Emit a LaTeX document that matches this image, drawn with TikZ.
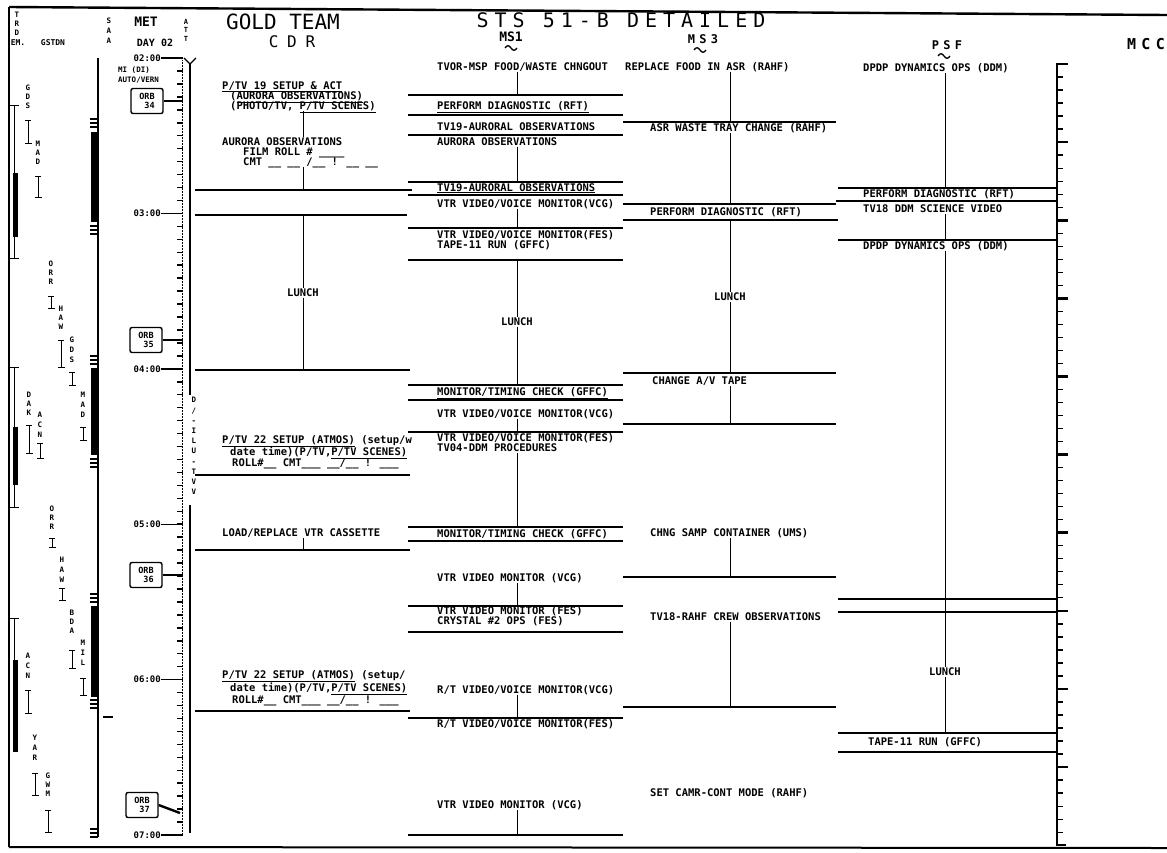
\documentclass[tikz,border=0pt]{standalone}
\usepackage{fontspec}
\setmainfont{DejaVu Sans Mono}
\newfontfamily\chartfont{DejaVu Sans Mono}
\newfontfamily\spacedfont[LetterSpace=55]{DejaVu Sans Mono}
\newfontfamily\titlefont[LetterSpace=30]{DejaVu Sans Mono}
\newfontfamily\wideheadfont[LetterSpace=35]{DejaVu Sans Mono}
\newcommand\gstn[6]{%
  \node[stnl] (#1) at (#2,#3) {#4};
  \draw[ibeam] (#2-3,#5) -- (#2+3,#5) (#2,#5) -- (#2,#6) (#2-3,#6) -- (#2+4,#6);}
\newcommand\tlbar[3]{\draw[bar] (#1,#3) -- (#2,#3);}
\newcommand\squig[2]{\draw[line width=1.3pt] (#1-6,#2) .. controls (#1-4,#2-3) and (#1-2,#2-3) .. (#1,#2) .. controls (#1+2,#2+3) and (#1+4,#2+3) .. (#1+6,#2);}
\begin{document}
\begin{tikzpicture}[x=1pt,y=-1pt,
  lbl/.style={font=\chartfont\bfseries\fontsize{10.5}{10.5}\selectfont, anchor=west, inner sep=0pt, text height=7.6pt, text depth=1.6pt},
  clbl/.style={lbl, anchor=center},
  small/.style={font=\chartfont\bfseries\fontsize{8}{8}\selectfont, inner sep=0pt},
  stnl/.style={font=\chartfont\bfseries\fontsize{7.5}{11}\selectfont, inner sep=0pt, align=center},
  bar/.style={line width=2.8pt},
  midbar/.style={line width=1.8pt},
  conn/.style={line width=0.9pt},
  tick/.style={line width=1.5pt},
  ibeam/.style={line width=1pt},
  orbbox/.style={draw, line width=1.4pt, rounded corners=2pt, minimum width=32pt, minimum height=25pt, inner sep=1.5pt, align=right, font=\chartfont\bfseries\fontsize{8.5}{9.5}\selectfont}
]
\useasboundingbox (0,0) rectangle (1167,852);
% frame
\draw[line width=2.4pt] (9,7) -- (1167,15);
\draw[line width=1.3pt] (9,7) -- (9,847);
\draw[line width=2pt] (9,847) -- (1167,848);

% column reference coordinates
\coordinate (cdrx) at (303,0);
\coordinate (msax) at (517,0);
\coordinate (msbx) at (730,0);
\coordinate (psfx) at (945,0);

% ---------------- headers
\node[stnl] (tdrs) at (17,24) {T\\[-2pt]R\\[-2pt]D};
\node[small] (em) at (18,43) {EM.};
\node[small] (gstdn) at (53,43) {GSTDN};
\node[stnl] (saa) at (109,31) {S\\[-1pt]A\\[-1pt]A};
\node[font=\chartfont\bfseries\fontsize{13}{13}\selectfont, inner sep=0pt] (met) at (146,22) {MET};
\node[font=\chartfont\bfseries\fontsize{7}{8.5}\selectfont, inner sep=0pt, align=center] (att) at (186,30) {A\\T\\T};
\node[font=\chartfont\bfseries\fontsize{10}{10}\selectfont, inner sep=0pt] (day) at (155,43) {DAY 02};
\node[font=\chartfont\fontsize{21}{21}\selectfont, inner sep=0pt] (gold) at (283,22) {GOLD TEAM};
\node[font=\spacedfont\fontsize{16}{16}\selectfont, inner sep=0pt] (cdr) at (292,42) {CDR};
\node[font=\titlefont\fontsize{20}{20}\selectfont, inner sep=0pt, text height=14.6pt, text depth=0pt] (title) at (621,20) {STS 51-B DETAILED};
\node[font=\chartfont\bfseries\fontsize{13}{13}\selectfont, inner sep=0pt, text height=9.5pt, text depth=0pt] (ms1) at (511,37) {MS1};
\squig{511}{48}
\node[font=\wideheadfont\bfseries\fontsize{12}{12}\selectfont, inner sep=0pt, text height=8.8pt, text depth=0pt] (ms3) at (703,39) {MS3};
\squig{700}{50}
\node[font=\wideheadfont\bfseries\fontsize{12}{12}\selectfont, inner sep=0pt, text height=8.8pt, text depth=0pt] (psf) at (947,45) {PSF};
\squig{944}{56}
\node[font=\wideheadfont\bfseries\fontsize{15}{15}\selectfont, inner sep=0pt] (mcc) at (1146,44) {MCC};

% ---------------- TDRS column
\draw[ibeam] (10,105) -- (19,105) (14,105) -- (14,258) (10,258) -- (19,258);
\draw[line width=5pt] (15,173) -- (15,237);
\draw[ibeam] (10,367) -- (19,367) (14,367) -- (14,507) (10,507) -- (19,507);
\draw[line width=5pt] (15,427) -- (15,485);
\draw[ibeam] (10,618) -- (19,618) (14,618) -- (14,752);
\draw[line width=5pt] (15,660) -- (15,752);

% ---------------- GSTDN stations
\gstn{g1}{28}{97}{G\\[-2pt]D\\[-2pt]S}{120}{143}
\gstn{g2}{38}{153}{M\\[-2pt]A\\[-2pt]D}{176}{197}
\gstn{g3}{51}{273}{O\\[-2pt]R\\[-2pt]R}{296}{308}
\gstn{g4}{61}{318}{H\\[-2pt]A\\[-2pt]W}{340}{367}
\gstn{g5}{72}{350}{G\\[-1pt]D\\[-1pt]S}{372}{385}
\gstn{g6}{83}{405}{M\\[-1pt]A\\[-1pt]D}{427}{440}
\gstn{g7}{29}{404}{D\\[-2pt]A\\[-2pt]K}{425}{453}
\gstn{g8}{40}{425}{A\\[-1pt]C\\[-1pt]N}{443}{458}
\gstn{g9}{52}{518}{O\\[-2pt]R\\[-2pt]R}{538}{547}
\gstn{g10}{62}{570}{H\\[-1pt]A\\[-1pt]W}{588}{600}
\gstn{g11}{72}{622}{B\\[-2pt]D\\[-2pt]A}{650}{668}
\gstn{g12}{83}{653}{M\\[-1pt]I\\[-1pt]L}{678}{695}
\gstn{g13}{28}{666}{A\\[-1pt]C\\[-1pt]N}{690}{713}
\gstn{g14}{35}{748}{Y\\[-1pt]A\\[-1pt]R}{773}{795}
\gstn{g15}{48}{785}{G\\[-2pt]W\\[-2pt]M}{810}{832}

% ---------------- SAA column
\draw[line width=1.2pt] (98,58) -- (98,837);
\draw[line width=7pt] (94,132) -- (94,222);
\draw[line width=7pt] (94,368) -- (94,455);
\draw[line width=7pt] (94,606) -- (94,697);
\foreach \yy in {119,123,127, 226,230,234, 356,360,364, 459,463,467, 594,598,602, 700,704,708, 829,833,837}
  \draw[line width=1.1pt] (90,\yy) -- (98,\yy);
\draw[line width=2pt] (103,717) -- (113,717);

% ---------------- MET axis
\draw[line width=1.6pt] (190,64) -- (190,395);
\draw[line width=1.6pt] (190,505) -- (190,833);
\draw[line width=1.2pt] (184,58) -- (190,64) -- (196,58);
\draw[line width=0.5pt, densely dotted] (182,60) -- (182,833);
\foreach \i in {0,...,60} {
  \pgfmathsetmacro\yy{58+\i*12.95}
  \draw[tick] (177,\yy) -- (183,\yy);
}
\foreach \h/\i in {02/0,03/12,04/24,05/36,06/48,07/60} {
  \pgfmathsetmacro\yy{58+\i*12.95}
  \node[font=\chartfont\bfseries\fontsize{9}{9}\selectfont, inner sep=0pt, anchor=east] (h\h) at (161,\yy) {\h:00};
  \draw[line width=1.4pt] (h\h.east) -- (183,\yy);
}
\node[font=\chartfont\bfseries\fontsize{7.5}{10.2}\selectfont, inner sep=0pt, align=center] (dl) at (194,446) {D\\/\\-\\I\\L\\U\\-\\T\\V\\V};
\node[font=\chartfont\bfseries\fontsize{7.5}{7.5}\selectfont, inner sep=0pt, anchor=west] (mi) at (118,70) {MI (DI)};
\node[font=\chartfont\bfseries\fontsize{7.5}{7.5}\selectfont, inner sep=0pt, anchor=west] (auto) at (118,80) {AUTO/VERN};

% ORB boxes
\node[orbbox] (o34) at (147,101) {ORB\\34};
\draw[line width=2.4pt] (o34.east) -- (183,101);
\node[orbbox] (o35) at (146,340) {ORB\\35};
\draw[line width=2.4pt] (o35.east) -- (183,340);
\node[orbbox] (o36) at (146,575) {ORB\\36};
\draw[line width=2.4pt] (o36.east) -- (183,575);
\node[orbbox] (o37) at (142,805) {ORB\\37};
\draw[line width=2.4pt] (o37.east) -- (180,813);

% ---------------- CDR column
\node[lbl] (c1a) at (222,86) {\underline{P/TV 19 SETUP \& ACT}};
\node[lbl] (c1b) at (230,96) {(\underline{AURORA OBSERVATIONS)}};
\node[lbl] (c1c) at (230,106) {(PHOTO/TV, \underline{P/TV SCENES)}};
\node[lbl] (c2a) at (222,142) {AURORA OBSERVATIONS};
\node[lbl] (c2b) at (243,152) {FILM ROLL \# \_\_\_\_};
\node[lbl] (c2c) at (243,162) {CMT \_\_ \_\_ /\_\_ ! \_\_ \_\_};
\draw[conn] (c1c.south -| cdrx) -- (c2a.north -| cdrx);
\coordinate (cb1) at (303,190);
\draw[conn] (c2c.south -| cdrx) -- (cb1);
\draw[midbar] (195,190) -- (412,190);
\tlbar{195}{407}{215}
\coordinate (cb2) at (303,215);
\node[clbl] (clunch) at (303,293) {LUNCH};
\coordinate (cb3) at (303,370);
\draw[conn] (cb2) -- (clunch.north);
\draw[conn] (clunch.south) -- (cb3);
\tlbar{195}{410}{370}
\node[lbl] (c4a) at (222,440) {\underline{P/TV 22 SETUP (ATMOS)} (setup/w};
\node[lbl] (c4b) at (230,452) {date time)(P/TV,\underline{P/TV SCENES)}};
\node[lbl] (c4c) at (232,463) {ROLL\#\_\_ CMT\_\_\_ \_\_/\_\_ ! \_\_\_};
\tlbar{195}{410}{475}
\node[lbl] (c5) at (222,533) {LOAD/REPLACE VTR CASSETTE};
\coordinate (cb5) at (303,550);
\draw[conn] (c5.south -| cdrx) -- (cb5);
\tlbar{195}{410}{550}
\node[lbl] (c6a) at (222,675) {\underline{P/TV 22 SETUP (ATMOS)} (setup/};
\node[lbl] (c6b) at (230,688) {date time)(P/TV,\underline{P/TV SCENES)}};
\node[lbl] (c6c) at (232,700) {ROLL\#\_\_ CMT\_\_\_ \_\_/\_\_ ! \_\_\_};
\tlbar{195}{410}{711}

% ---------------- MS1 column
\node[lbl] (m1) at (437,67) {TVOR-MSP FOOD/WASTE CHNGOUT};
\coordinate (mb1) at (517,95);
\draw[conn] (m1.south -| msax) -- (mb1);
\tlbar{408}{623}{95}
\node[lbl] (m2) at (437,106) {\underline{PERFORM DIAGNOSTIC (RFT)}};
\tlbar{408}{623}{115}
\node[lbl] (m3) at (437,127) {TV19-AURORAL OBSERVATIONS};
\tlbar{408}{623}{135}
\node[lbl] (m4) at (437,142) {AURORA OBSERVATIONS};
\coordinate (mb2) at (517,182);
\draw[conn] (m4.south -| msax) -- (mb2);
\tlbar{408}{623}{182}
\node[lbl] (m5) at (437,188) {\underline{TV19-AURORAL OBSERVATIONS}};
\tlbar{408}{623}{195}
\node[lbl] (m6) at (437,204) {VTR VIDEO/VOICE MONITOR(VCG)};
\coordinate (mb3) at (517,228);
\draw[conn] (m6.south -| msax) -- (mb3);
\tlbar{408}{623}{228}
\node[lbl] (m7a) at (437,235) {VTR VIDEO/VOICE MONITOR(FES)};
\node[lbl] (m7b) at (437,245) {TAPE-11 RUN (GFFC)};
\tlbar{408}{623}{260}
\coordinate (mb4) at (517,260);
\node[clbl] (mlunch) at (517,322) {LUNCH};
\coordinate (mb5) at (517,385);
\draw[conn] (mb4) -- (mlunch.north);
\draw[conn] (mlunch.south) -- (mb5);
\tlbar{408}{623}{385}
\node[lbl] (m8) at (437,392) {\underline{MONITOR/TIMING CHECK (GFFC)}};
\tlbar{408}{623}{400}
\node[lbl] (m9) at (437,414) {VTR VIDEO/VOICE MONITOR(VCG)};
\coordinate (mb6) at (517,432);
\draw[conn] (m9.south -| msax) -- (mb6);
\tlbar{408}{623}{432}
\node[lbl] (m10a) at (437,438) {VTR VIDEO/VOICE MONITOR(FES)};
\node[lbl] (m10b) at (437,448) {TV04-DDM PROCEDURES};
\coordinate (mb7) at (517,527);
\draw[conn] (m10b.south -| msax) -- (mb7);
\tlbar{408}{623}{527}
\node[lbl] (m11) at (437,534) {\underline{MONITOR/TIMING CHECK (GFFC)}};
\tlbar{408}{623}{541}
\node[lbl] (m12) at (437,578) {VTR VIDEO MONITOR (VCG)};
\coordinate (mb8) at (517,606);
\draw[conn] (m12.south -| msax) -- (mb8);
\tlbar{408}{623}{606}
\node[lbl] (m13a) at (437,611) {VTR VIDEO MONITOR (FES)};
\node[lbl] (m13b) at (437,621) {CRYSTAL \#2 OPS (FES)};
\tlbar{408}{623}{632}
\node[lbl] (m14) at (437,690) {R/T VIDEO/VOICE MONITOR(VCG)};
\coordinate (mb9) at (517,718);
\draw[conn] (m14.south -| msax) -- (mb9);
\tlbar{408}{623}{718}
\node[lbl] (m15) at (437,724) {R/T VIDEO/VOICE MONITOR(FES)};
\node[lbl] (m16) at (437,805) {VTR VIDEO MONITOR (VCG)};
\coordinate (mb10) at (517,835);
\draw[conn] (m16.south -| msax) -- (mb10);
\tlbar{408}{623}{835}

% ---------------- MS3 column
\node[lbl] (s1) at (625,67) {REPLACE FOOD IN ASR (RAHF)};
\coordinate (sb1) at (730,122);
\draw[conn] (s1.south -| msbx) -- (sb1);
\tlbar{623}{836}{122}
\node[lbl] (s2) at (650,128) {ASR WASTE TRAY CHANGE (RAHF)};
\coordinate (sb2) at (730,204);
\draw[conn] (s2.south -| msbx) -- (sb2);
\tlbar{623}{836}{204}
\node[lbl] (s3) at (650,212) {PERFORM DIAGNOSTIC (RFT)};
\tlbar{623}{838}{220}
\coordinate (sb3) at (730,220);
\node[clbl] (slunch) at (730,297) {LUNCH};
\coordinate (sb4) at (730,373);
\draw[conn] (sb3) -- (slunch.north);
\draw[conn] (slunch.south) -- (sb4);
\tlbar{623}{836}{373}
\node[lbl] (s4) at (652,381) {CHANGE A/V TAPE};
\coordinate (sb5) at (730,424);
\draw[conn] (s4.south -| msbx) -- (sb5);
\tlbar{623}{836}{424}
\node[lbl] (s5) at (650,533) {CHNG SAMP CONTAINER (UMS)};
\coordinate (sb6) at (730,577);
\draw[conn] (s5.south -| msbx) -- (sb6);
\tlbar{623}{836}{577}
\node[lbl] (s6) at (650,617) {TV18-RAHF CREW OBSERVATIONS};
\coordinate (sb7) at (730,707);
\draw[conn] (s6.south -| msbx) -- (sb7);
\tlbar{623}{836}{707}
\node[lbl] (s7) at (650,793) {SET CAMR-CONT MODE (RAHF)};

% ---------------- PSF column
\node[lbl] (p1) at (863,68) {DPDP DYNAMICS OPS (DDM)};
\coordinate (pb1) at (945,188);
\draw[conn] (p1.south -| psfx) -- (pb1);
\tlbar{838}{1057}{188}
\node[lbl] (p2) at (863,194) {\underline{PERFORM DIAGNOSTIC (RFT)}};
\tlbar{836}{1057}{201}
\node[lbl] (p3) at (863,209) {TV18 DDM SCIENCE VIDEO};
\coordinate (pb2) at (945,240);
\draw[conn] (p3.south -| psfx) -- (pb2);
\tlbar{838}{1057}{240}
\node[lbl] (p4) at (863,246) {DPDP DYNAMICS OPS (DDM)};
\tlbar{838}{1057}{599}
\tlbar{838}{1057}{612}
\node[clbl] (plunch) at (945,672) {LUNCH};
\draw[conn] (p4.south -| psfx) -- (plunch.north);
\coordinate (pb3) at (945,733);
\draw[conn] (plunch.south) -- (pb3);
\tlbar{838}{1057}{733}
\node[lbl] (p5) at (868,742) {TAPE-11 RUN (GFFC)};
\tlbar{838}{1057}{752}

% ---------------- MCC axis
\draw[line width=2.2pt] (1057,64) -- (1057,845);
\draw[line width=2.6pt] (1056,64) -- (1068,64);
\draw[line width=2.2pt] (1056,845) -- (1066,845);
\foreach \i in {1,...,59} {
  \pgfmathsetmacro\yy{64+\i*13.02}
  \pgfmathtruncatemacro\m{mod(\i,6)}
  \ifnum\m=0
    \draw[line width=2.6pt] (1057,\yy) -- (1068,\yy);
  \else
    \draw[line width=1.3pt] (1057,\yy) -- (1063,\yy);
  \fi
}
\end{tikzpicture}
\end{document}
